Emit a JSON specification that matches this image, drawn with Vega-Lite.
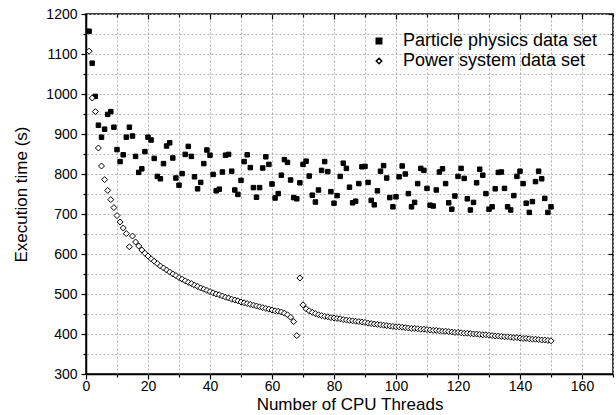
{
  "$schema": "https://vega.github.io/schema/vega-lite/v6.json",
  "width": 527,
  "height": 360,
  "autosize": {"type": "none"},
  "padding": {"left": 86, "top": 14, "right": 3, "bottom": 41},
  "background": "white",
  "config": {
    "font": "Liberation Sans",
    "view": {"stroke": "black", "strokeWidth": 1.5},
    "axis": {
      "labelFont": "Liberation Sans", "titleFont": "Liberation Sans",
      "labelColor": "black", "titleColor": "black", "tickColor": "black", "domainColor": "black",
      "titleFontWeight": "normal", "labelFontSize": 14, "titleFontSize": 17,
      "gridColor": "#b0b0b0", "gridDash": [2, 2], "gridWidth": 1, "tickWidth": 1.2, "domainWidth": 1.5,
      "labelOverlap": false, "labelFlush": false
    },
    "legend": {
      "labelFont": "Liberation Sans", "labelFontSize": 18, "labelColor": "black", "labelLimit": 400,
      "symbolSize": 30, "labelOffset": 15, "rowPadding": 2, "padding": 0
    }
  },
  "datasets": {
    "particle": [
      {"threads":1,"time":1157},{"threads":2,"time":1077},{"threads":3,"time":994},{"threads":4,"time":922},{"threads":5,"time":892},
      {"threads":6,"time":912},{"threads":7,"time":949},{"threads":8,"time":956},{"threads":9,"time":917},{"threads":10,"time":861},
      {"threads":11,"time":831},{"threads":12,"time":848},{"threads":13,"time":892},{"threads":14,"time":917},{"threads":15,"time":895},
      {"threads":16,"time":844},{"threads":17,"time":804},{"threads":18,"time":813},{"threads":19,"time":856},{"threads":20,"time":892},
      {"threads":21,"time":885},{"threads":22,"time":839},{"threads":23,"time":794},{"threads":24,"time":788},{"threads":25,"time":826},
      {"threads":26,"time":870},{"threads":27,"time":878},{"threads":28,"time":840},{"threads":29,"time":790},{"threads":30,"time":772},
      {"threads":31,"time":801},{"threads":32,"time":849},{"threads":33,"time":869},{"threads":34,"time":844},{"threads":35,"time":793},
      {"threads":36,"time":763},{"threads":37,"time":779},{"threads":38,"time":826},{"threads":39,"time":860},{"threads":40,"time":847},
      {"threads":41,"time":799},{"threads":42,"time":758},{"threads":43,"time":762},{"threads":44,"time":805},{"threads":45,"time":847},
      {"threads":46,"time":849},{"threads":47,"time":807},{"threads":48,"time":760},{"threads":49,"time":749},{"threads":50,"time":784},
      {"threads":51,"time":831},{"threads":52,"time":848},{"threads":53,"time":816},{"threads":54,"time":766},{"threads":55,"time":742},
      {"threads":56,"time":766},{"threads":57,"time":815},{"threads":58,"time":843},{"threads":59,"time":824},{"threads":60,"time":775},
      {"threads":61,"time":740},{"threads":62,"time":751},{"threads":63,"time":797},{"threads":64,"time":836},{"threads":65,"time":829},
      {"threads":66,"time":785},{"threads":67,"time":741},{"threads":68,"time":738},{"threads":69,"time":778},{"threads":70,"time":824},
      {"threads":71,"time":832},{"threads":72,"time":795},{"threads":73,"time":747},{"threads":74,"time":730},{"threads":75,"time":760},
      {"threads":76,"time":809},{"threads":77,"time":831},{"threads":78,"time":806},{"threads":79,"time":756},{"threads":80,"time":727},
      {"threads":81,"time":746},{"threads":82,"time":794},{"threads":83,"time":827},{"threads":84,"time":814},{"threads":85,"time":767},
      {"threads":86,"time":728},{"threads":87,"time":732},{"threads":88,"time":776},{"threads":89,"time":818},{"threads":90,"time":819},
      {"threads":91,"time":779},{"threads":92,"time":734},{"threads":93,"time":723},{"threads":94,"time":758},{"threads":95,"time":807},
      {"threads":96,"time":821},{"threads":97,"time":790},{"threads":98,"time":741},{"threads":99,"time":718},{"threads":100,"time":743},
      {"threads":101,"time":793},{"threads":102,"time":820},{"threads":103,"time":800},{"threads":104,"time":751},{"threads":105,"time":718},
      {"threads":106,"time":729},{"threads":107,"time":776},{"threads":108,"time":814},{"threads":109,"time":809},{"threads":110,"time":764},
      {"threads":111,"time":722},{"threads":112,"time":720},{"threads":113,"time":760},{"threads":114,"time":805},{"threads":115,"time":813},
      {"threads":116,"time":776},{"threads":117,"time":728},{"threads":118,"time":712},{"threads":119,"time":745},{"threads":120,"time":794},
      {"threads":121,"time":814},{"threads":122,"time":789},{"threads":123,"time":738},{"threads":124,"time":710},{"threads":125,"time":729},
      {"threads":126,"time":778},{"threads":127,"time":812},{"threads":128,"time":797},{"threads":129,"time":751},{"threads":130,"time":712},
      {"threads":131,"time":718},{"threads":132,"time":763},{"threads":133,"time":804},{"threads":134,"time":805},{"threads":135,"time":764},
      {"threads":136,"time":718},{"threads":137,"time":710},{"threads":138,"time":746},{"threads":139,"time":794},{"threads":140,"time":807},
      {"threads":141,"time":776},{"threads":142,"time":727},{"threads":143,"time":704},{"threads":144,"time":731},{"threads":145,"time":781},
      {"threads":146,"time":807},{"threads":147,"time":788},{"threads":148,"time":739},{"threads":149,"time":704},{"threads":150,"time":718}
    ],
    "power": [
      {"threads":1,"time":1107},{"threads":2,"time":990},{"threads":3,"time":956},{"threads":4,"time":865},{"threads":5,"time":820},
      {"threads":6,"time":786},{"threads":7,"time":759},{"threads":8,"time":736},{"threads":9,"time":716},{"threads":10,"time":696},
      {"threads":11,"time":680},{"threads":12,"time":665},{"threads":13,"time":651},{"threads":14,"time":618},{"threads":15,"time":645},
      {"threads":16,"time":630},{"threads":17,"time":620},{"threads":18,"time":610},{"threads":19,"time":602},{"threads":20,"time":595},
      {"threads":21,"time":588},{"threads":22,"time":582},{"threads":23,"time":576},{"threads":24,"time":570},{"threads":25,"time":565},
      {"threads":26,"time":560},{"threads":27,"time":555},{"threads":28,"time":550},{"threads":29,"time":546},{"threads":30,"time":541},
      {"threads":31,"time":537},{"threads":32,"time":533},{"threads":33,"time":529},{"threads":34,"time":526},{"threads":35,"time":522},
      {"threads":36,"time":519},{"threads":37,"time":515},{"threads":38,"time":512},{"threads":39,"time":509},{"threads":40,"time":506},
      {"threads":41,"time":503},{"threads":42,"time":500},{"threads":43,"time":498},{"threads":44,"time":495},{"threads":45,"time":492},
      {"threads":46,"time":490},{"threads":47,"time":487},{"threads":48,"time":485},{"threads":49,"time":483},{"threads":50,"time":480},
      {"threads":51,"time":478},{"threads":52,"time":476},{"threads":53,"time":474},{"threads":54,"time":472},{"threads":55,"time":470},
      {"threads":56,"time":468},{"threads":57,"time":466},{"threads":58,"time":464},{"threads":59,"time":462},{"threads":60,"time":460},
      {"threads":61,"time":458},{"threads":62,"time":457},{"threads":63,"time":455},{"threads":64,"time":452},{"threads":65,"time":448},
      {"threads":66,"time":442},{"threads":67,"time":431},{"threads":68,"time":396},{"threads":69,"time":540},{"threads":70,"time":473},
      {"threads":71,"time":463},{"threads":72,"time":458},{"threads":73,"time":454},{"threads":74,"time":451},{"threads":75,"time":448},
      {"threads":76,"time":446},{"threads":77,"time":444},{"threads":78,"time":443},{"threads":79,"time":441},{"threads":80,"time":440},
      {"threads":81,"time":439},{"threads":82,"time":438},{"threads":83,"time":436},{"threads":84,"time":435},{"threads":85,"time":434},
      {"threads":86,"time":433},{"threads":87,"time":432},{"threads":88,"time":431},{"threads":89,"time":430},{"threads":90,"time":429},
      {"threads":91,"time":427},{"threads":92,"time":426},{"threads":93,"time":425},{"threads":94,"time":424},{"threads":95,"time":423},
      {"threads":96,"time":422},{"threads":97,"time":421},{"threads":98,"time":420},{"threads":99,"time":419},{"threads":100,"time":418},
      {"threads":101,"time":418},{"threads":102,"time":417},{"threads":103,"time":416},{"threads":104,"time":415},{"threads":105,"time":414},
      {"threads":106,"time":414},{"threads":107,"time":413},{"threads":108,"time":412},{"threads":109,"time":412},{"threads":110,"time":411},
      {"threads":111,"time":410},{"threads":112,"time":409},{"threads":113,"time":409},{"threads":114,"time":408},{"threads":115,"time":407},
      {"threads":116,"time":407},{"threads":117,"time":406},{"threads":118,"time":405},{"threads":119,"time":404},{"threads":120,"time":404},
      {"threads":121,"time":403},{"threads":122,"time":402},{"threads":123,"time":402},{"threads":124,"time":401},{"threads":125,"time":400},
      {"threads":126,"time":400},{"threads":127,"time":399},{"threads":128,"time":398},{"threads":129,"time":398},{"threads":130,"time":397},
      {"threads":131,"time":396},{"threads":132,"time":395},{"threads":133,"time":395},{"threads":134,"time":394},{"threads":135,"time":393},
      {"threads":136,"time":393},{"threads":137,"time":392},{"threads":138,"time":391},{"threads":139,"time":391},{"threads":140,"time":390},
      {"threads":141,"time":389},{"threads":142,"time":389},{"threads":143,"time":388},{"threads":144,"time":387},{"threads":145,"time":387},
      {"threads":146,"time":386},{"threads":147,"time":385},{"threads":148,"time":385},{"threads":149,"time":384},{"threads":150,"time":383}
    ]
  },
  "layer": [
    {
      "data": {"name": "particle"},
      "mark": {"type": "point", "filled": true, "stroke": "black", "strokeWidth": 1, "opacity": 1, "size": 20},
      "encoding": {
        "x": {
          "field": "threads", "type": "quantitative",
          "scale": {"domain": [0, 170], "nice": false, "zero": false},
          "axis": {
            "orient": "bottom", "title": "Number of CPU Threads",
            "values": [0,10,20,30,40,50,60,70,80,90,100,110,120,130,140,150,160,170],
            "labelExpr": "datum.value % 20 === 0 && datum.value <= 160 ? datum.label : ''",
            "tickSize": {"condition": {"test": "datum.value % 20 === 0", "value": 5}, "value": 3},
            "grid": false, "labelPadding": 0, "titlePadding": 3
          }
        },
        "y": {
          "field": "time", "type": "quantitative",
          "scale": {"domain": [300, 1200], "nice": false, "zero": false},
          "axis": {
            "orient": "left", "title": "Execution time (s)", "format": "d",
            "values": [300,350,400,450,500,550,600,650,700,750,800,850,900,950,1000,1050,1100,1150,1200],
            "labelExpr": "datum.value % 100 === 0 ? datum.label : ''",
            "tickSize": {"condition": {"test": "datum.value % 100 === 0", "value": 5}, "value": 3},
            "grid": false, "labelPadding": 4, "titlePadding": 15
          }
        },
        "shape": {
          "datum": "Particle physics data set", "type": "nominal",
          "scale": {"domain": ["Particle physics data set", "Power system data set"], "range": ["square", "diamond"]},
          "legend": {"title": null, "orient": "none", "legendX": 284, "legendY": 18,
            "encode": {"symbols": {"update": {"stroke": {"value": "black"}, "strokeWidth": {"value": 1}}}}}
        },
        "fill": {
          "datum": "Particle physics data set", "type": "nominal",
          "scale": {"domain": ["Particle physics data set", "Power system data set"], "range": ["black", "white"]},
          "legend": {"title": null, "orient": "none", "legendX": 284, "legendY": 18,
            "encode": {"symbols": {"update": {"stroke": {"value": "black"}, "strokeWidth": {"value": 1}}}}}
        }
      }
    },
    {
      "data": {"name": "power"},
      "mark": {"type": "point", "filled": true, "stroke": "black", "strokeWidth": 1, "opacity": 1, "size": 36},
      "encoding": {
        "x": {
          "field": "threads", "type": "quantitative",
          "scale": {"domain": [0, 170], "nice": false, "zero": false},
          "axis": {
            "orient": "top", "title": null, "labels": false, "domain": false,
            "values": [0,10,20,30,40,50,60,70,80,90,100,110,120,130,140,150,160,170],
            "tickSize": {"condition": {"test": "datum.value % 20 === 0", "value": -5}, "value": -3},
            "grid": true
          }
        },
        "y": {
          "field": "time", "type": "quantitative",
          "scale": {"domain": [300, 1200], "nice": false, "zero": false},
          "axis": {
            "orient": "right", "title": null, "labels": false, "domain": false,
            "values": [300,350,400,450,500,550,600,650,700,750,800,850,900,950,1000,1050,1100,1150,1200],
            "tickSize": {"condition": {"test": "datum.value % 100 === 0", "value": -5}, "value": -3},
            "grid": true
          }
        },
        "shape": {
          "datum": "Power system data set", "type": "nominal",
          "scale": {"domain": ["Particle physics data set", "Power system data set"], "range": ["square", "diamond"]},
          "legend": {"title": null, "orient": "none", "legendX": 284, "legendY": 18,
            "encode": {"symbols": {"update": {"stroke": {"value": "black"}, "strokeWidth": {"value": 1}}}}}
        },
        "fill": {
          "datum": "Power system data set", "type": "nominal",
          "scale": {"domain": ["Particle physics data set", "Power system data set"], "range": ["black", "white"]},
          "legend": {"title": null, "orient": "none", "legendX": 284, "legendY": 18,
            "encode": {"symbols": {"update": {"stroke": {"value": "black"}, "strokeWidth": {"value": 1}}}}}
        }
      }
    }
  ],
  "resolve": {"axis": {"x": "independent", "y": "independent"}}
}
